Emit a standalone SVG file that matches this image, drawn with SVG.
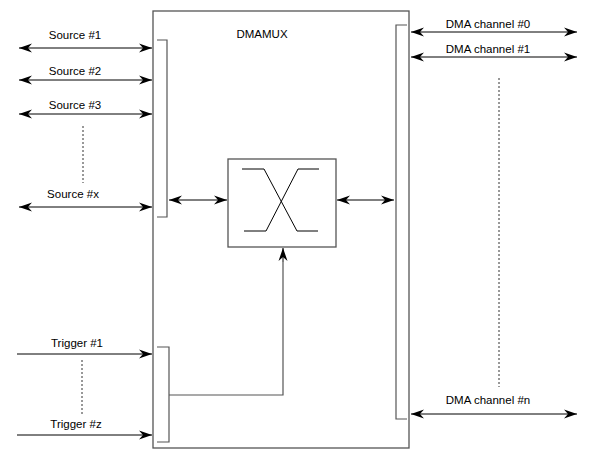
<svg xmlns="http://www.w3.org/2000/svg" width="593" height="460" viewBox="0 0 593 460">
<style>
text{font-family:"Liberation Sans",Arial,sans-serif;font-size:11.5px;fill:#000;text-anchor:middle}
.box{fill:none;stroke:#555;stroke-width:1.3}
.ln{fill:none;stroke:#000;stroke-width:1}
.gl{fill:none;stroke:#555;stroke-width:1.2}
.ar{fill:none;stroke:#000;stroke-width:1;marker-end:url(#ah)}
.ar2{fill:none;stroke:#000;stroke-width:1;marker-start:url(#ah);marker-end:url(#ah)}
.dot{fill:none;stroke:#333;stroke-width:1;stroke-dasharray:2,2}
</style>
<defs>
<marker id="ah" markerUnits="userSpaceOnUse" markerWidth="14" markerHeight="10" refX="13" refY="4.5" orient="auto-start-reverse" viewBox="0 0 14 9">
<path d="M0,0 L13,4.5 L0,9 L4,4.5 Z" fill="#000"/>
</marker>
</defs>
<g id="dmamux">
<rect class="box" x="153" y="11" width="256" height="437"/>
<text x="262" y="38">DMAMUX</text>
</g>
<g id="source-bracket"><path class="gl" d="M157,40 H167 V217 H157"/></g>
<g id="trigger-bracket"><path class="gl" d="M157,347 H169 V442 H157"/></g>
<g id="channel-bracket"><path class="gl" d="M407,25 H396 V419 H407"/></g>
<g id="mux">
<rect class="box" x="228" y="159" width="108" height="88"/>
<path class="ln" d="M242,169 H264 L297,231 H318 M319,169 H298 L266,231 H244" stroke="#333"/>
</g>
<g id="labels">
<text x="75" y="39">Source #1</text>
<text x="75" y="75">Source #2</text>
<text x="75" y="109">Source #3</text>
<text x="73" y="198">Source #x</text>
<text x="77" y="347">Trigger #1</text>
<text x="76" y="428">Trigger #z</text>
<text x="488" y="28">DMA channel #0</text>
<text x="488" y="53">DMA channel #1</text>
<text x="488" y="404">DMA channel #n</text>
</g>
<g id="connectors">
<path class="ar2" d="M19,48 H152"/>
<path class="ar2" d="M19,80 H152"/>
<path class="ar2" d="M19,114 H152"/>
<path class="ar2" d="M19,207 H152"/>
<path class="dot" d="M83,126 V183"/>
<path class="ar2" d="M169,200 H227"/>
<path class="ar2" d="M337,200 H394"/>
<path class="ar2" d="M411,32 H577"/>
<path class="ar2" d="M411,57 H577"/>
<path class="ar2" d="M411,414 H577"/>
<path class="dot" d="M499,78 V387"/>
<path class="ar" d="M17,354 H152"/>
<path class="ar" d="M17,435 H152"/>
<path class="dot" d="M82,360 V414"/>
<path class="gl" d="M169,395 H283 V262"/>
<path class="ar" d="M283,262 V248"/>
</g>
</svg>
